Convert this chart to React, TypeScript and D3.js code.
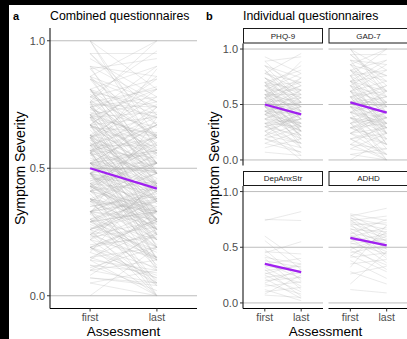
import React from "react";
import * as d3 from "d3";

const assessments = ["first", "last"];
const yTicks = [0, 0.5, 1.0];
const facetNames = ["PHQ-9", "GAD-7", "DepAnxStr", "ADHD"];

const phq9First = [0.52,0.74,0.33,0.63,0.48,0.85,0.26,0.59,0.41,0.70,0.56,0.37,0.93,0.44,0.19,0.67,0.52,0.30,0.78,0.48,0.63,0.22,0.56,0.41,0.81,0.33,0.59,0.70,0.15,0.48,0.44,0.67,0.26,0.52,0.89,0.37,0.63,0.56,0.11,0.74,0.48,0.41,0.59,0.30,0.67,0.52,0.78,0.19,0.44,0.63,0.56,0.33,0.70,0.48,0.85,0.26,0.59,0.41,0.07,0.74,0.52,0.37,0.63,0.44,0.67,0.22,0.56,0.81,0.30,0.48,0.59,0.37,0.70,0.52,0.15,0.44,0.78,0.33,0.63,0.41,0.56,0.89,0.26,0.48,0.67,0.19,0.52,0.74,0.37,0.59,0.44,0.30,0.63,0.85,0.41,0.56,0.22,0.70,0.48,0.33];
const phq9Last = [0.41,0.56,0.44,0.30,0.52,0.67,0.15,0.70,0.19,0.81,0.37,0.26,0.78,0.59,0.07,0.48,0.22,0.41,0.96,0.33,0.63,0.33,0.11,0.48,0.52,0.04,0.44,0.37,0.26,0.74,0.30,0.85,0.00,0.56,0.59,0.52,0.41,0.67,0.19,0.44,0.15,0.33,0.26,0.37,0.70,0.30,0.63,0.30,0.22,0.48,0.89,0.19,0.52,0.41,0.74,0.37,0.33,0.63,0.04,0.59,0.44,0.11,0.78,0.26,0.56,0.15,0.48,0.44,0.22,0.63,0.52,0.48,0.26,0.37,0.07,0.41,0.70,0.30,0.19,0.56,0.26,0.93,0.41,0.30,0.37,0.11,0.67,0.48,0.33,0.59,0.52,0.15,0.44,0.52,0.26,0.74,0.44,0.63,0.22,0.37];

const gad7First = [0.52,1.00,0.38,0.71,0.24,0.62,0.86,0.48,0.14,0.76,0.57,0.33,0.95,0.43,0.67,0.19,0.81,0.52,0.29,1.00,0.62,0.05,0.71,0.38,0.90,0.48,0.24,0.57,0.76,0.33,0.67,0.43,0.86,0.10,0.52,0.81,0.29,0.62,0.95,0.38,0.71,0.19,0.57,0.48,0.00,0.76,0.43,0.67,0.33,0.90,0.24,0.52,0.62,1.00,0.14,0.81,0.48,0.29,0.71,0.57,0.38,0.86,0.43,0.19,0.67,0.52,0.76,0.05,0.62,0.33,0.95,0.48,0.24,0.71,0.57,0.10,0.81,0.38,0.67,0.29,0.52,0.90,0.43,0.62,0.14,0.76,0.57,0.33,1.00,0.48,0.19,0.71,0.38,0.86,0.24,0.62,0.52,0.43,0.81,0.29];
const gad7Last = [0.43,0.81,0.24,0.90,0.05,0.52,1.00,0.29,0.33,0.57,0.14,0.38,0.67,0.62,0.48,0.00,0.71,0.24,0.43,1.00,0.33,0.10,0.52,0.19,0.76,0.57,0.29,0.38,0.24,0.00,0.86,0.33,0.62,0.05,0.67,0.43,0.14,0.71,0.95,0.48,0.29,0.24,0.62,0.10,0.19,0.81,0.38,0.24,0.52,0.48,0.14,0.57,0.43,0.57,0.00,0.90,0.38,0.33,0.62,0.19,0.29,0.76,0.52,0.29,0.33,0.48,1.00,0.00,0.14,0.43,0.71,0.24,0.38,0.43,0.67,0.24,0.52,0.05,0.57,0.19,0.33,0.86,0.29,0.81,0.10,0.38,0.48,0.14,0.62,0.43,0.05,0.76,0.33,0.48,0.43,0.29,0.52,0.00,0.62,0.38];

const depAnxStrFirst = [0.75,0.74,0.60,0.56,0.48,0.46,0.45,0.43,0.41,0.40,0.38,0.36,0.35,0.33,0.32,0.30,0.29,0.27,0.26,0.25,0.23,0.22,0.20,0.18,0.17,0.15,0.12,0.10,0.08,0.07];
const depAnxStrLast = [0.74,0.82,0.37,0.30,0.20,0.44,0.55,0.26,0.35,0.12,0.32,0.22,0.40,0.28,0.15,0.06,0.33,0.18,0.35,0.10,0.27,0.04,0.23,0.30,0.08,0.19,0.02,0.14,0.25,0.05];

const adhdFirst = [0.80,0.79,0.78,0.77,0.76,0.75,0.74,0.73,0.72,0.71,0.70,0.69,0.67,0.66,0.65,0.63,0.62,0.61,0.60,0.59,0.58,0.57,0.55,0.54,0.53,0.51,0.50,0.48,0.47,0.45,0.43,0.41,0.38,0.35,0.32,0.28,0.26,0.17,0.12,0.42];
const adhdLast = [0.74,0.62,0.85,0.55,0.70,0.48,0.78,0.66,0.60,0.42,0.72,0.58,0.52,0.64,0.40,0.56,0.75,0.50,0.46,0.68,0.36,0.54,0.62,0.44,0.57,0.30,0.49,0.60,0.34,0.52,0.28,0.45,0.22,0.39,0.70,0.17,0.33,0.46,0.09,0.64];

const meanFirst = [0.50, 0.52, 0.35, 0.585];
const meanLast = [0.41, 0.426, 0.277, 0.516];
const combinedMeanFirst = 0.50;
const combinedMeanLast = 0.42;

const facetFirst = [phq9First, gad7First, depAnxStrFirst, adhdFirst];
const facetLast = [phq9Last, gad7Last, depAnxStrLast, adhdLast];

const FONT = "'Liberation Sans', Arial, Helvetica, sans-serif";
const LINE = "#b0b0b0";
const PURPLE = "#A020F0";
const GRID = "#bdbdbd";

function Panel({ x0, x1, y0, y1, firsts, lasts, mf, ml }) {
  const xs = d3.scalePoint().domain(assessments).range([x0, x1]).padding(0.6);
  const ys = d3.scaleLinear().domain([-0.05, 1.05]).range([y1, y0]);
  const line = d3.line().x((d) => xs(d[0])).y((d) => ys(d[1]));
  return (
    <g>
      {yTicks.map((t) => (
        <line key={t} x1={x0} x2={x1} y1={ys(t)} y2={ys(t)} stroke={GRID} strokeWidth={1} />
      ))}
      {firsts.map((f, i) => (
        <path key={i} d={line([["first", f], ["last", lasts[i]]])} stroke={LINE} strokeOpacity={0.45} strokeWidth={0.6} fill="none" />
      ))}
      <path d={line([["first", mf], ["last", ml]])} stroke={PURPLE} strokeWidth={2.3} fill="none" />
    </g>
  );
}

function YAxis({ x, y0, y1 }) {
  const ys = d3.scaleLinear().domain([-0.05, 1.05]).range([y1, y0]);
  return (
    <g>
      <line x1={x} x2={x} y1={y0} y2={y1} stroke="#000" strokeWidth={1} />
      {yTicks.map((t) => (
        <g key={t}>
          <line x1={x - 3} x2={x} y1={ys(t)} y2={ys(t)} stroke="#333" strokeWidth={1} />
          <text x={x - 5} y={ys(t)} dy="0.36em" textAnchor="end" fontSize={11} fill="#4d4d4d" fontFamily={FONT}>
            {d3.format(".1f")(t)}
          </text>
        </g>
      ))}
    </g>
  );
}

function XAxis({ x0, x1, y }) {
  const xs = d3.scalePoint().domain(assessments).range([x0, x1]).padding(0.6);
  return (
    <g>
      <line x1={x0} x2={x1} y1={y} y2={y} stroke="#000" strokeWidth={1} />
      {assessments.map((a) => (
        <g key={a}>
          <line x1={xs(a)} x2={xs(a)} y1={y} y2={y + 3} stroke="#333" strokeWidth={1} />
          <text x={xs(a)} y={y + 12} textAnchor="middle" fontSize={10.5} fill="#4d4d4d" fontFamily={FONT}>
            {a}
          </text>
        </g>
      ))}
    </g>
  );
}

export default function App() {
  const W = 407, H = 339;
  const allFirst = facetFirst.flat();
  const allLast = facetLast.flat();
  const aX0 = 50, aX1 = 197, aY0 = 28, aY1 = 308.5;
  const cols = [[243, 323], [328.5, 408.5]];
  const rows = [[28, 43.5, 165.5], [171, 186, 308.5]];
  return (
    <div style={{ position: "fixed", left: 0, top: 0 }}>
      <svg width={W} height={H} style={{ display: "block" }}>
        <rect x={0} y={0} width={W} height={H} fill="#000" />
        <rect x={9} y={5} width={W - 9} height={H - 5} fill="#fff" />

        {/* Panel a */}
        <text x={13} y={20} fontSize={11} fontWeight="bold" fontFamily={FONT} fill="#000">a</text>
        <text x={50} y={20} fontSize={12.3} fontFamily={FONT} fill="#000">Combined questionnaires</text>
        <Panel x0={aX0} x1={aX1} y0={aY0} y1={aY1} firsts={allFirst} lasts={allLast} mf={combinedMeanFirst} ml={combinedMeanLast} />
        <YAxis x={aX0} y0={aY0} y1={aY1} />
        <XAxis x0={aX0} x1={aX1} y={aY1} />
        <text transform={`translate(25,${(aY0 + aY1) / 2}) rotate(-90)`} textAnchor="middle" fontSize={14} fontFamily={FONT} fill="#000">Symptom Severity</text>
        <text x={(aX0 + aX1) / 2} y={336} textAnchor="middle" fontSize={13.5} fontFamily={FONT} fill="#000">Assessment</text>

        {/* Panel b */}
        <text x={206} y={20} fontSize={11} fontWeight="bold" fontFamily={FONT} fill="#000">b</text>
        <text x={243} y={20} fontSize={12.3} fontFamily={FONT} fill="#000">Individual questionnaires</text>
        {facetNames.map((name, i) => {
          const [cx0, cx1] = cols[i % 2];
          const [sy0, py0, py1] = rows[Math.floor(i / 2)];
          return (
            <g key={name}>
              <rect x={cx0 + 0.5} y={sy0 + 0.5} width={cx1 - cx0 - 1} height={py0 - sy0 - 1} fill="#fff" stroke="#1a1a1a" strokeWidth={1} />
              <text x={(cx0 + cx1) / 2} y={(sy0 + py0) / 2} dy="0.36em" textAnchor="middle" fontSize={8} fill="#1a1a1a" fontFamily={FONT}>{name}</text>
              <Panel x0={cx0} x1={cx1} y0={py0} y1={py1} firsts={facetFirst[i]} lasts={facetLast[i]} mf={meanFirst[i]} ml={meanLast[i]} />
            </g>
          );
        })}
        <YAxis x={243} y0={43.5} y1={165.5} />
        <YAxis x={243} y0={186} y1={308.5} />
        <XAxis x0={cols[0][0]} x1={cols[0][1]} y={308.5} />
        <XAxis x0={cols[1][0]} x1={cols[1][1]} y={308.5} />
        <text transform={`translate(219,${(28 + 308.5) / 2}) rotate(-90)`} textAnchor="middle" fontSize={14} fontFamily={FONT} fill="#000">Symptom Severity</text>
        <text x={325.5} y={336} textAnchor="middle" fontSize={13.5} fontFamily={FONT} fill="#000">Assessment</text>
      </svg>
    </div>
  );
}
